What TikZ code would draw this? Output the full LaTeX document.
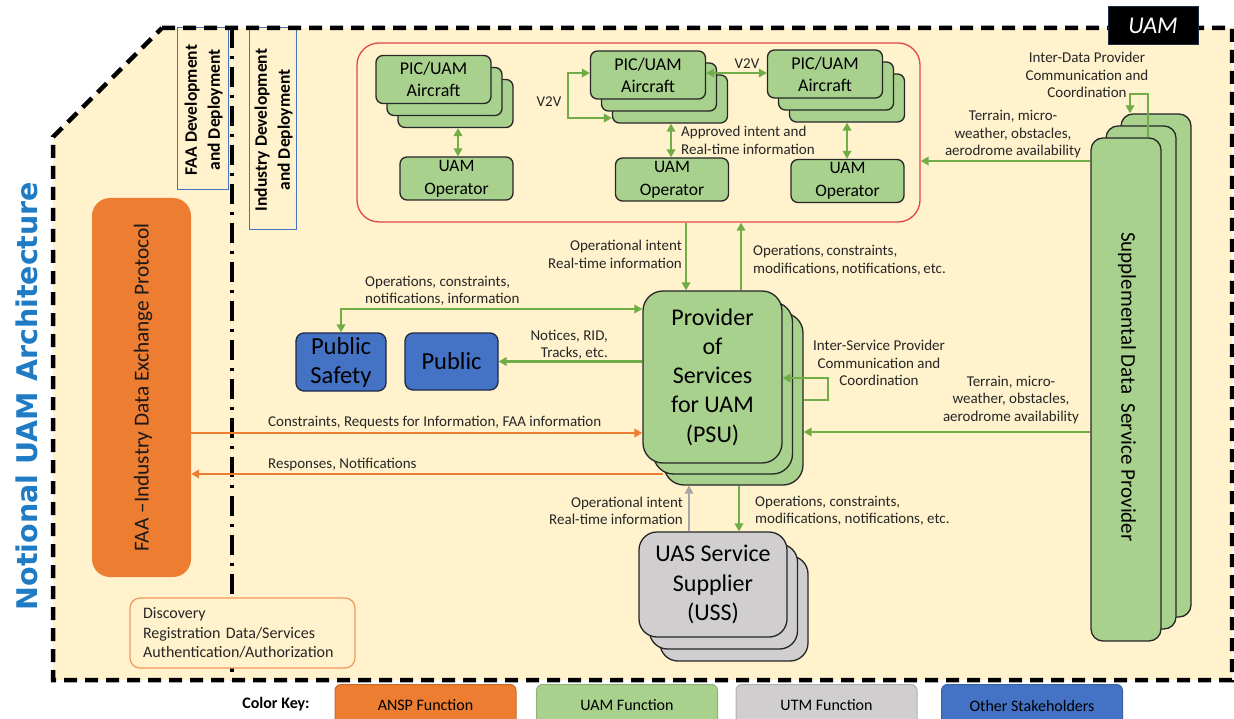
\documentclass[tikz,border=0pt]{standalone}
\usepackage{fontspec}
\setmainfont{Carlito}
\newfontfamily\titlefont{DejaVu Sans}
\usetikzlibrary{arrows.meta,calc}
\definecolor{bg}{HTML}{FFF2CC}
\definecolor{gfill}{HTML}{A9D18E}
\definecolor{gline}{HTML}{70AD47}
\definecolor{ofill}{HTML}{ED7D31}
\definecolor{bfill}{HTML}{4472C4}
\definecolor{bdark}{HTML}{1F2A44}
\definecolor{grfill}{HTML}{D0CECE}
\definecolor{grline}{HTML}{A6A6A6}
\definecolor{redl}{HTML}{E04848}
\definecolor{titleblue}{HTML}{1F7BC4}
\definecolor{labelblue}{HTML}{4472C4}
\definecolor{boxline}{HTML}{262626}
\begin{document}
\begin{tikzpicture}[x=1pt,y=-1pt,
  gbox/.style={draw=boxline, fill=gfill, line width=1.3pt, rounded corners=7pt, inner sep=0pt, align=center, font=\fontsize{18}{22}\selectfont},
  acbox/.style={gbox, minimum width=115pt, minimum height=48pt},
  opbox/.style={gbox, minimum width=113pt, minimum height=43pt, font=\fontsize{17.5}{23}\selectfont},
  psubox/.style={gbox, minimum width=139pt, minimum height=172pt, rounded corners=20pt, font=\fontsize{24}{29.3}\selectfont},
  ussbox/.style={draw=boxline, fill=grfill, line width=1.3pt, rounded corners=18pt, minimum width=148pt, minimum height=105pt, align=center, font=\fontsize{24}{29.5}\selectfont, inner sep=0pt},
  sdbox/.style={gbox, minimum width=70pt, minimum height=503pt, rounded corners=12pt},
  pubbox/.style={draw=bdark, fill=bfill, line width=1.3pt, rounded corners=8pt, align=center, inner sep=0pt, font=\fontsize{24.5}{29}\selectfont},
  lbl/.style={font=\fontsize{15}{17.5}\selectfont, text=black!85, inner sep=0pt},
  ga/.style={draw=gline, line width=2.2pt, -{Triangle[length=8pt,width=8.5pt]}},
  gaa/.style={draw=gline, line width=2.2pt, {Triangle[length=8pt,width=8.5pt]}-{Triangle[length=8pt,width=8.5pt]}},
  oa/.style={draw=ofill, line width=2.2pt, -{Triangle[length=8pt,width=8.5pt]}},
  gra/.style={draw=grline, line width=2.2pt, -{Triangle[length=8pt,width=8.5pt]}},
  keybox/.style={rounded corners=6pt, minimum width=181pt, minimum height=42pt, anchor=north, font=\fontsize{16}{18}\selectfont, line width=1pt, inner sep=0pt},
]
\useasboundingbox (0,0) rectangle (1234,719);
\clip (0,0) rectangle (1234,719);

% background area
\fill[bg] (162,28) -- (1232,28) -- (1232,680) -- (53,680) -- (53,137) -- cycle;

% development labels
\node[draw=labelblue, line width=1pt, minimum width=51pt, minimum height=162pt, inner sep=0pt] (faadev) at (202.5,109) {};
\node[rotate=90, align=center, font=\bfseries\fontsize{17.5}{23}\selectfont, inner sep=0pt] (faadevt) at (203.5,110) {FAA Development\\and Deployment};
\node[draw=labelblue, line width=1pt, minimum width=47pt, minimum height=202pt, inner sep=0pt] (inddev) at (272.5,129) {};
\node[rotate=90, align=center, font=\bfseries\fontsize{17.5}{23}\selectfont, inner sep=0pt] (inddevt) at (273.5,130) {Industry Development\\and Deployment};

% border
\draw[black, line width=4.5pt, dash pattern=on 13pt off 8pt] (162,28) -- (1232,28) -- (1232,680) -- (53,680) -- (53,137) -- cycle;
\draw[black, line width=4pt, dash pattern=on 20pt off 8pt on 3pt off 8pt] (232,28) -- (232,680);

% UAM tag
\node[fill=black, draw=bdark, line width=1pt, minimum width=90pt, minimum height=38pt, inner sep=0pt, text=white, font=\itshape\fontsize{24}{26}\selectfont] (uamtag) at (1153,26) {UAM};

% title
\node[rotate=90, text=titleblue, font=\titlefont\bfseries\fontsize{28.5}{32}\selectfont, inner sep=0pt] (title) at (27,396) {Notional UAM Architecture};

% FAA exchange protocol
\node[fill=ofill, rounded corners=18pt, minimum width=99pt, minimum height=379pt, inner sep=0pt] (faa) at (141.5,387.5) {};
\node[rotate=90, font=\fontsize{21.3}{24}\selectfont, inner sep=0pt, text=black!90] (faat) at (143,387.5) {FAA –Industry Data Exchange Protocol};

% discovery box
\node[draw=ofill!80, fill=bg, line width=1.2pt, rounded corners=10pt, minimum width=225pt, minimum height=70pt, text width=199pt, inner xsep=13pt, inner ysep=0pt, align=left, font=\fontsize{16}{19.5}\selectfont, text=black!85] (disc) at (242.5,633) {Discovery\\Registration Data/Services\\Authentication/Authorization};

% red group
\node[draw=redl, line width=1.3pt, rounded corners=22pt, minimum width=563pt, minimum height=179pt, inner sep=0pt] (red) at (638.5,132.5) {};

% aircraft stacks
\node[acbox] (ac1c) at (455.5,103.5) {};
\node[acbox] (ac1b) at (444.5,91.5) {};
\node[acbox] (ac1a) at (433.5,79.5) {PIC/UAM\\Aircraft};
\node[acbox] (ac2c) at (670,99) {};
\node[acbox] (ac2b) at (659,87) {};
\node[acbox] (ac2a) at (648,75) {PIC/UAM\\Aircraft};
\node[acbox] (ac3c) at (847,98) {};
\node[acbox] (ac3b) at (836,86) {};
\node[acbox] (ac3a) at (825,74) {PIC/UAM\\Aircraft};

% operators
\node[opbox] (op1) at (456.5,178.5) {UAM\\Operator};
\node[opbox] (op2) at (672,179.5) {UAM\\Operator};
\node[opbox] (op3) at (847.5,181) {UAM\\Operator};

\draw[gaa] (op1.north -| 458,0) -- (ac1c.south -| 458,0);
\draw[gaa] (op2.north -| 671,0) -- (ac2c.south -| 671,0);
\draw[gaa] (op3.north -| 847,0) -- (ac3c.south -| 847,0);

% V2V
\coordinate (v2vb) at (ac2c.west |- 0,118);
\draw[gaa] (ac2a.west |- 0,73) -- (568,73) -- (568,118) -- (v2vb);
\node[lbl] (v2v1) at (549,102) {V2V};
\draw[gaa] (ac2a.east |- 0,73) -- (ac3a.west |- 0,73);
\node[lbl] (v2v2) at (747,64) {V2V};
\node[lbl, anchor=west, align=left] (appr) at (681,140.5) {Approved intent and\\Real-time information};

% PSU
\node[psubox] (psu3) at (733.5,399) {};
\node[psubox] (psu2) at (723,388) {};
\node[psubox] (psu1) at (712.5,377) {Provider\\of\\Services\\for UAM\\(PSU)};

% USS
\node[ussbox] (uss3) at (734,608.5) {};
\node[ussbox] (uss2) at (723.5,596.5) {};
\node[ussbox] (uss1) at (713,584.5) {UAS Service\\Supplier\\(USS)};

% SDSP
\node[sdbox] (sd3) at (1156,365.5) {};
\node[sdbox] (sd2) at (1141,377.5) {};
\node[sdbox] (sd1) at (1126,389.5) {};
\node[rotate=-90, font=\fontsize{21}{24}\selectfont, inner sep=0pt] (sdt) at (1127,387) {Supplemental Data\ \ Service Provider};

% public
\node[pubbox, minimum width=90pt, minimum height=58pt] (ps) at (341,362) {Public\\Safety};
\node[pubbox, minimum width=93pt, minimum height=57pt] (pub) at (451.5,361.5) {Public};

% red <-> PSU
\draw[ga] (red.south -| 686,0) -- (psu1.north -| 686,0);
\draw[ga] (psu1.north -| 741,0) -- (red.south -| 741,0);
\node[lbl, anchor=east, align=right] (l1) at (682,254.5) {Operational intent\\Real-time information};
\node[lbl, anchor=west, align=left] (l2) at (753,260.5) {Operations,\,constraints,\\modifications,\,notifications,\,etc.};

% PSU <-> public safety
\draw[gaa] (psu1.west |- 0,309) -| (ps.north);
\node[lbl, anchor=west, align=left] (l3) at (365,291) {Operations, constraints,\\notifications, information};
\draw[ga] (psu1.west |- pub.east) -- (pub.east);
\node[lbl, anchor=east, align=right] (l4) at (608,345) {Notices, RID,\\Tracks, etc.};

% orange
\draw[oa] (faa.east |- 0,433) -- (psu1.west |- 0,433);
\node[lbl, anchor=west] (l5) at (268,423) {Constraints, Requests for Information, FAA information};
\draw[oa] (psu3.west |- 0,474) -- (faa.east |- 0,474);
\node[lbl, anchor=west] (l6) at (268,465) {Responses, Notifications};

% inter-service loop
\draw[ga] (psu3.east |- 0,400) -- (828,400) |- (psu1.east |- 0,378);
\node[lbl, align=center] (l7) at (879,363) {Inter-Service Provider\\Communication and\\Coordination};

% SDSP -> PSU
\draw[ga] (sd1.west |- 0,432) -- (psu3.east |- 0,432);
\node[lbl, align=center] (l8) at (1011,400) {Terrain, micro-\\weather, obstacles,\\aerodrome availability};

% SDSP -> red
\draw[ga] (sd1.west |- 0,161) -- (red.east |- 0,161);
\node[lbl, align=center] (l9) at (1013,134.5) {Terrain, micro-\\weather, obstacles,\\aerodrome availability};

% inter-data loop
\draw[ga] (sd1.north -| 1148,0) -- (1148,94) -- (1130,94) -- (sd3.north -| 1130,0);
\node[lbl, align=center] (l10) at (1087,75) {Inter-Data Provider\\Communication and\\Coordination};

% PSU <-> USS
\draw[gra] (uss1.north -| 689,0) -- (psu3.south -| 689,0);
\node[lbl, anchor=east, align=right] (l11) at (683,511) {Operational intent\\Real-time information};
\draw[ga] (psu3.south -| 739,0) -- (uss1.north -| 739,0);
\node[lbl, anchor=west, align=left] (l12) at (755,511) {Operations, constraints,\\modifications, notifications, etc.};

% color key
\node[font=\bfseries\fontsize{16}{18}\selectfont, inner sep=0pt] (ck) at (276,704) {Color Key:};
\node[keybox, fill=ofill, draw=ofill!85!black] (k1) at (425.5,684) {ANSP Function};
\node[keybox, fill=gfill, draw=gfill!85!black] (k2) at (627,684) {UAM Function};
\node[keybox, fill=grfill, draw=grfill!85!black] (k3) at (826.5,684) {UTM Function};
\node[keybox, fill=bfill, draw=bfill!85!black] (k4) at (1032,684) {Other Stakeholders};
\end{tikzpicture}
\end{document}
